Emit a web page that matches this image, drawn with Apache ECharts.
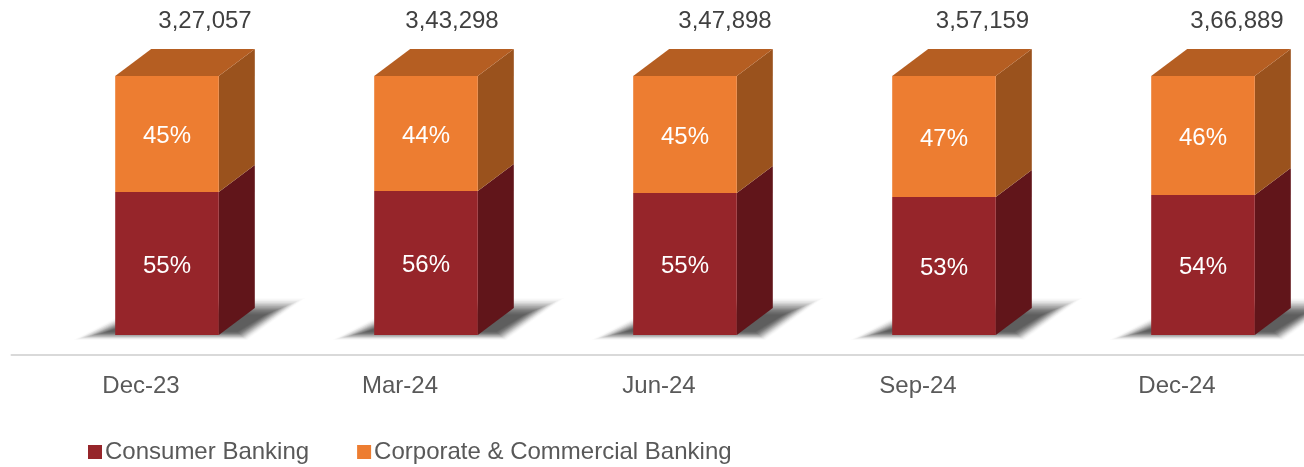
<!DOCTYPE html>
<html><head><meta charset="utf-8">
<style>html,body{margin:0;padding:0;background:#fff}#c{width:1304px;height:467px}</style>
<script src="https://cdn.jsdelivr.net/npm/echarts@6/dist/echarts.min.js"></script>
</head><body><div id="c"></div>
<script>
const categories = ['Dec-23','Mar-24','Jun-24','Sep-24','Dec-24'];
const consumerBanking = [55.2,55.6,54.8,53.3,54.1];
const corporateBanking = [44.8,44.4,45.2,46.7,45.9];
const totals = ['3,27,057','3,43,298','3,47,898','3,57,159','3,66,889'];

const FONT = '"Liberation Sans", Arial, sans-serif';
const SHIFT = 26, DX = 36, DY = 27;            // oblique projection of the 3D look
const totalShift = [38,26,40,38.5,34];         // total labels sit irregularly above the bars
const chart = echarts.init(document.getElementById('c'), null, {renderer:'canvas'});

function segment(front, side, top) {
  return function (params, api) {
    const i = api.value(0);
    const w = api.size([1,0])[0] * 0.4;
    const p0 = api.coord([i, api.value(1)]);
    const p1 = api.coord([i, api.value(2)]);
    const x0 = p0[0] + SHIFT - w/2, x1 = x0 + w;
    const yb = p0[1], yt = p1[1];
    const children = [
      {type:'polygon', shape:{points:[[x1,yb],[x1+DX,yb-DY],[x1+DX,yt-DY],[x1,yt]]}, style:{fill:side}},
      {type:'rect', shape:{x:x0,y:yt,width:w,height:yb-yt}, style:{fill:front}},
      {type:'text', style:{x:x0+w/2,y:(yt+yb)/2+2.5,text:Math.round(api.value(2)-api.value(1))+'%',
        fill:'#fff',font:'24px '+FONT,align:'center',verticalAlign:'middle'}}
    ];
    if (top) children.push({type:'polygon', shape:{points:[[x0,yt],[x0+DX,yt-DY],[x1+DX,yt-DY],[x1,yt]]}, style:{fill:top}});
    return {type:'group', children};
  };
}
function shadow(params, api) {
  const i = api.value(0);
  const w = api.size([1,0])[0] * 0.4;
  const p = api.coord([i,0]);
  const x0 = p[0] + SHIFT - w/2, y = p[1];
  const children = [];
  const LAYERS = 16;
  for (let k = 0; k < LAYERS; k++) {
    const t = k * 1.1;   // layers inset progressively, building a soft edge
    children.push({type:'polygon', silent:true,
      shape:{points:[[x0-42+t*2.1,y+5-t*0.5],[x0+38+t*0.3,y-37+t],[x0+190-t*2.4,y-37+t],[x0+132-t*0.6,y+5-t*0.5]]},
      style:{fill:'#505050',opacity:0.015+0.016*k}});
  }
  return {type:'group', children};
}
function totalLabel(params, api) {
  const i = api.value(0);
  const p = api.coord([i, api.value(1)]);
  return {type:'text', style:{x:p[0]+SHIFT+totalShift[i],y:p[1]-55,text:totals[i],
    fill:'#404040',font:'24px '+FONT,align:'center',verticalAlign:'middle'}};
}
const idx = categories.map((_, i) => i);
chart.setOption({
  animation:false,
  backgroundColor:'#fff',
  grid:{left:11.5,width:1295,top:76,height:259,containLabel:false,outerBoundsMode:'none'},
  xAxis:{type:'category',data:categories,offset:20,
    axisLine:{onZero:false,lineStyle:{color:'#D9D9D9',width:2}},axisTick:{show:false},
    axisLabel:{color:'#595959',fontFamily:'Liberation Sans',fontSize:24,margin:19}},
  yAxis:{type:'value',min:0,max:100,show:false},
  legend:{left:83,top:435,itemWidth:14,itemHeight:14,itemGap:48,
    data:[{name:'Consumer Banking',icon:'rect'},{name:'Corporate & Commercial Banking',icon:'rect'}],
    textStyle:{color:'#595959',fontFamily:'Liberation Sans',fontSize:24,padding:[0,0,0,-2]}},
  series:[
    {type:'custom',name:'shadow',z:1,clip:false,silent:true,renderItem:shadow,
      data:idx.map(i=>[i])},
    {type:'custom',name:'Consumer Banking',z:2,clip:false,color:'#96252A',
      renderItem:segment('#96252A','#61151A',null),
      data:idx.map(i=>[i,0,consumerBanking[i]])},
    {type:'custom',name:'Corporate & Commercial Banking',z:3,clip:false,color:'#ED7D31',
      renderItem:segment('#ED7D31','#9A521D','#B55E22'),
      data:idx.map(i=>[i,consumerBanking[i],consumerBanking[i]+corporateBanking[i]])},
    {type:'custom',name:'total',z:4,clip:false,silent:true,renderItem:totalLabel,
      data:idx.map(i=>[i,consumerBanking[i]+corporateBanking[i]])}
  ]
});
</script></body></html>
